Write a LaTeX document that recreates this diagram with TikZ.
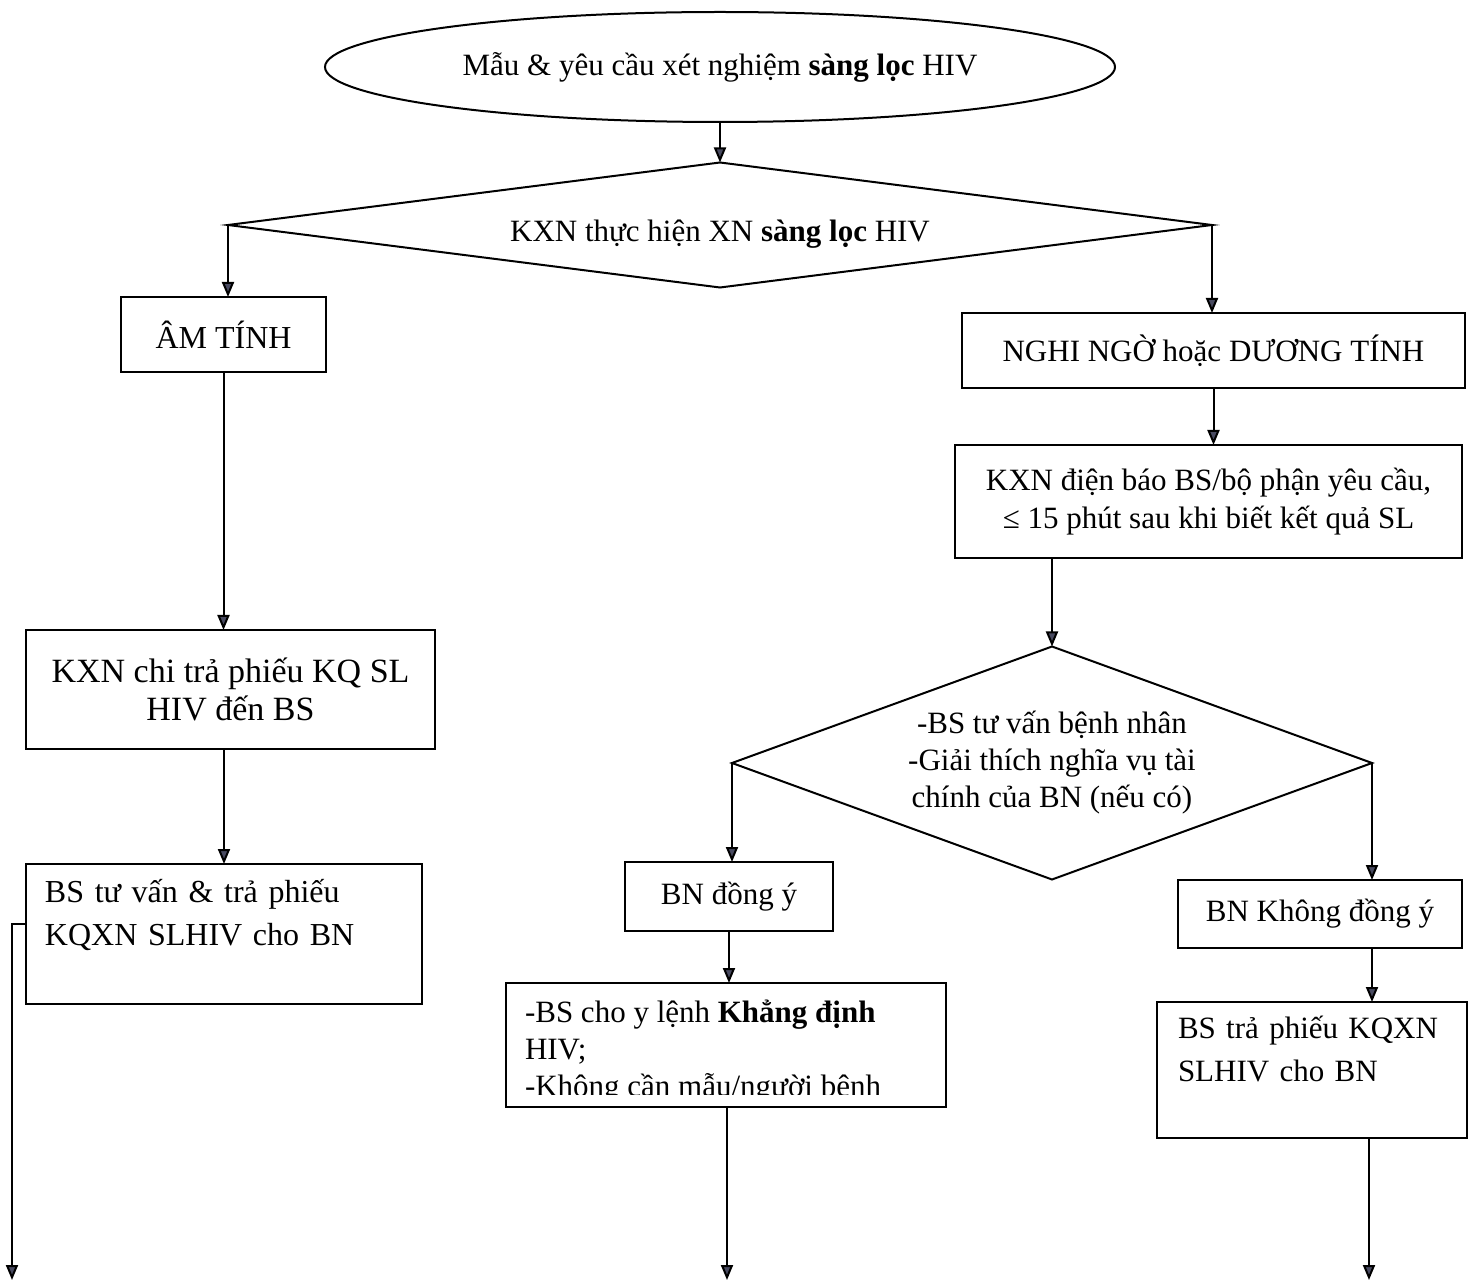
\documentclass[tikz,border=0pt]{standalone}
\usepackage{fontspec}
\setmainfont{Liberation Serif}
\usetikzlibrary{shapes.geometric,arrows.meta}
\definecolor{tipgray}{RGB}{72,74,96}
\tikzset{flowbox/.style={draw, rectangle, line width=1pt, inner sep=0, outer sep=0, align=center, font=\fontsize{15.5}{19}\selectfont}}
\tikzset{flowdiam/.style={draw, diamond, line width=1pt, inner sep=0, outer sep=0, align=center, font=\fontsize{15.5}{18.5}\selectfont}}
\tikzset{flowarrow/.style={line width=1pt, -{Triangle[width=6pt,length=7.5pt,fill=tipgray]}}}

\begin{document}
\begin{tikzpicture}[x=0.5pt,y=-0.5pt]
\useasboundingbox (0,0) rectangle (1474,1283);
% Sample
\node[draw, ellipse, line width=1pt, inner sep=0, outer sep=0, minimum width=395pt, minimum height=55pt, font=\fontsize{15.5}{19}\selectfont] (mau) at (720,67) {Mẫu \& yêu cầu xét nghiệm \textbf{sàng lọc} HIV};
% Screening
\node[flowdiam, aspect=7.9, minimum width=492pt, minimum height=62.5pt, text height=19pt, text depth=2pt] (thuchien) at (720,225) {KXN thực hiện XN \textbf{sàng lọc} HIV};
%% Negative branch
\node[flowbox, minimum width=102.5pt, minimum height=37.5pt, font=\fontsize{16}{19}\selectfont] (amtinh) at (223.5,334.5) {ÂM TÍNH};
\node[flowbox, minimum width=204.5pt, minimum height=59.5pt, font=\fontsize{17}{19}\selectfont] (chitra) at (230.5,689.5) {KXN chi trả phiếu KQ SL\\HIV đến BS};
\node[flowbox, minimum width=198pt, minimum height=70pt, text width=179pt, align=left, font=\fontsize{16}{21.5}\selectfont] (tuvan) at (224,934) {BS tư vấn \& trả phiếu\\KQXN SLHIV cho BN\\~};
%% Positive branch
\node[flowbox, minimum width=251.5pt, minimum height=37.5pt] (nghingo) at (1213.5,350.5) {NGHI NGỜ hoặc DƯƠNG TÍNH};
\node[flowbox, minimum width=253.5pt, minimum height=56.5pt] (dienbao) at (1208.5,501.5) {KXN điện báo BS/bộ phận yêu cầu,\\≤ 15 phút sau khi biết kết quả SL};
\node[flowdiam, aspect=2.75, minimum width=320pt, minimum height=116.5pt] (tuvanbn) at (1052,763) {-BS tư vấn bệnh nhân\\-Giải thích nghĩa vụ tài\\chính của BN (nếu có)};
% Agree
\node[flowbox, minimum width=104pt, minimum height=34.5pt] (dongy) at (729,896.5) {BN đồng ý};
\node[flowbox, minimum width=220pt, minimum height=62pt, path picture={
    \clip (path picture bounding box.north west) rectangle ([yshift=6.5pt]path picture bounding box.south east);
    \node[anchor=north west, inner sep=0, minimum width=0pt, minimum height=0pt, align=left, font=\fontsize{15.5}{18.5}\selectfont] at ([xshift=9.5pt,yshift=-8.5pt]path picture bounding box.north west) {-BS cho y lệnh \textbf{Khẳng định}\\HIV;\\-Không cần mẫu/người bệnh};
  }] (khang) at (726,1045) {};
% Disagree
\node[flowbox, minimum width=142pt, minimum height=34pt] (khongdy) at (1320,914) {BN Không đồng ý};
\node[flowbox, minimum width=155pt, minimum height=68pt, text width=134pt, align=left, font=\fontsize{15.5}{21.5}\selectfont] (traphieu) at (1312,1070) {BS trả phiếu KQXN\\SLHIV cho BN\\~};
% Free ends
\coordinate (outL) at (12,1280);
\coordinate (outM) at (727,1280);
\coordinate (outR) at (1369,1280);
% Arrows
\draw[flowarrow] (mau.south) -- (thuchien.north);
\draw[flowarrow] (thuchien.west) -- (thuchien.west |- amtinh.north);
\draw[flowarrow] (thuchien.east) -- (thuchien.east |- nghingo.north);
\draw[flowarrow] (amtinh.south) -- (amtinh.south |- chitra.north);
\draw[flowarrow] (tuvan.north |- chitra.south) -- (tuvan.north);
\draw[flowarrow] ([yshift=5pt]tuvan.west) -| (outL);
\draw[flowarrow] (nghingo.south) -- (nghingo.south |- dienbao.north);
\draw[flowarrow] (tuvanbn.north |- dienbao.south) -- (tuvanbn.north);
\draw[flowarrow] (tuvanbn.west) -- (tuvanbn.west |- dongy.north);
\draw[flowarrow] (dongy.south) -- (dongy.south |- khang.north);
\draw[flowarrow] (outM |- khang.south) -- (outM);
\draw[flowarrow] (tuvanbn.east) -- (tuvanbn.east |- khongdy.north);
\draw[flowarrow] (tuvanbn.east |- khongdy.south) -- (tuvanbn.east |- traphieu.north);
\draw[flowarrow] (outR |- traphieu.south) -- (outR);
\end{tikzpicture}
\end{document}
